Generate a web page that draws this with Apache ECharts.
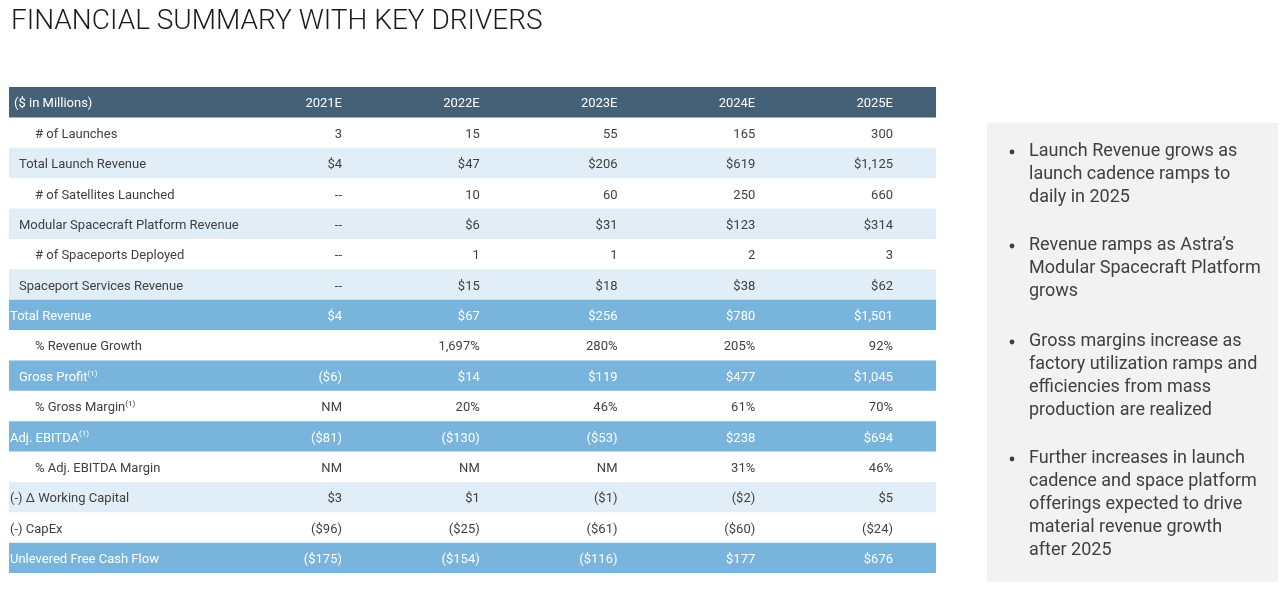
<!DOCTYPE html>
<html>
<head>
<meta charset="utf-8">
<script src="https://cdn.jsdelivr.net/npm/echarts@6/dist/echarts.min.js"></script>
<style>
html,body{margin:0;padding:0;background:#fff;}
#main{width:1287px;height:602px;}
</style>
</head>
<body>
<div id="main"></div>
<script>
// ---------- DATA ----------
var years = ['2021E', '2022E', '2023E', '2024E', '2025E'];
var headerLabel = '($ in Millions)';
var rowLabels = [
  '# of Launches',
  'Total Launch Revenue',
  '# of Satellites Launched',
  'Modular Spacecraft Platform Revenue',
  '# of Spaceports Deployed',
  'Spaceport Services Revenue',
  'Total Revenue',
  '% Revenue Growth',
  'Gross Profit',
  '% Gross Margin',
  'Adj. EBITDA',
  '% Adj. EBITDA Margin',
  '(-) \u0394 Working Capital',
  '(-) CapEx',
  'Unlevered Free Cash Flow'
];
var launches         = [3, 15, 55, 165, 300];
var launchRevenue    = [4, 47, 206, 619, 1125];
var satellites       = [null, 10, 60, 250, 660];
var platformRevenue  = [null, 6, 31, 123, 314];
var spaceports       = [null, 1, 1, 2, 3];
var spaceportRevenue = [null, 15, 18, 38, 62];
var totalRevenue     = [4, 67, 256, 780, 1501];
var revenueGrowth    = [null, 1697, 280, 205, 92];
var grossProfit      = [-6, 14, 119, 477, 1045];
var grossMargin      = [null, 20, 46, 61, 70];
var adjEbitda        = [-81, -130, -53, 238, 694];
var ebitdaMargin     = [null, null, null, 31, 46];
var workingCapital   = [3, 1, -1, -2, 5];
var capex            = [-96, -25, -61, -60, -24];
var unleveredFCF     = [-175, -154, -116, 177, 676];
var footnoteRows = ['Gross Profit', '% Gross Margin', 'Adj. EBITDA'];

var bullets = [
  'Launch Revenue grows as\nlaunch cadence ramps to\ndaily in 2025',
  'Revenue ramps as Astra\u2019s\nModular Spacecraft Platform\ngrows',
  'Gross margins increase as\nfactory utilization ramps and\nefficiencies from mass\nproduction are realized',
  'Further increases in launch\ncadence and space platform\nofferings expected to drive\nmaterial revenue growth\nafter 2025'
];

// ---------- FORMATTING / STYLE ----------
var rowValues = [launches, launchRevenue, satellites, platformRevenue, spaceports, spaceportRevenue,
  totalRevenue, revenueGrowth, grossProfit, grossMargin, adjEbitda, ebitdaMargin, workingCapital, capex, unleveredFCF];
var rowKinds = ['n','$','n','$','n','$','$','%','$','%','$','%','$','$','$'];
var nullText = ['--','--','--','--','--','--','--','','--','NM','--','NM','--','--','--'];

function fmt(v, kind, nt) {
  if (v === null || v === undefined) return nt;
  var a = Math.abs(v).toLocaleString('en-US');
  if (kind === '%') return a + '%';
  if (kind === '$') return v < 0 ? '($' + a + ')' : '$' + a;
  return a;
}

var C = {
  header: '#456178', light: '#e1eef7', bold: '#78b4db',
  text: '#404040', white: '#ffffff'
};
// style per table row (index 0 = header)
var rowStyle = [
  {bg: C.header, color: C.white, indent: 5},
  {bg: null, color: C.text, indent: 26},
  {bg: C.light, color: C.text, indent: 10},
  {bg: null, color: C.text, indent: 26},
  {bg: C.light, color: C.text, indent: 10},
  {bg: null, color: C.text, indent: 26},
  {bg: C.light, color: C.text, indent: 10},
  {bg: C.bold, color: C.white, indent: 1},
  {bg: null, color: C.text, indent: 26},
  {bg: C.bold, color: C.white, indent: 10},
  {bg: null, color: C.text, indent: 26},
  {bg: C.bold, color: C.white, indent: 1},
  {bg: null, color: C.text, indent: 26},
  {bg: C.light, color: C.text, indent: 1},
  {bg: null, color: C.text, indent: 1},
  {bg: C.bold, color: C.white, indent: 1}
];

var tableRows = [{label: headerLabel, cells: years}];
rowLabels.forEach(function (lab, i) {
  tableRows.push({
    label: lab,
    cells: rowValues[i].map(function (v) { return fmt(v, rowKinds[i], nullText[i]); })
  });
});
var yCats = tableRows.map(function (r, i) { return String(i); });

var FONT = 'Roboto, "Noto Sans", sans-serif';
var TEXT_DY = 2;

var chart = echarts.init(document.getElementById('main'), null, {renderer: 'canvas'});

// bullets as graphic
var bulletTops = [150, 244, 340, 457];
var graphics = [{
  type: 'rect', left: 987, top: 123, z: 0,
  shape: {width: 291, height: 459},
  style: {fill: '#f2f2f2'}
}];
bullets.forEach(function (b, k) {
  graphics.push({
    type: 'circle', z: 2,
    shape: {cx: 1012, cy: bulletTops[k] + 2, r: 2.4},
    style: {fill: '#404040'}
  });
  graphics.push({
    type: 'text', z: 2, x: 1029, y: bulletTops[k] - 9.5,
    style: {text: b, font: '18px ' + FONT, fill: '#404040', lineHeight: 22.8, align: 'left', verticalAlign: 'top'}
  });
});

chart.setOption({
  animation: false,
  title: {
    text: 'FINANCIAL SUMMARY WITH KEY DRIVERS',
    left: 6, top: 3,
    textStyle: {fontFamily: FONT, fontSize: 28, fontWeight: 300, color: '#1a1a1a'}
  },
  grid: {left: 9, top: 87, width: 927, height: 486, containLabel: false},
  xAxis: {type: 'value', min: -1.4174, max: 5.3122, show: false},
  yAxis: {type: 'category', data: yCats, inverse: true, show: false},
  graphic: graphics,
  series: [{
    type: 'custom',
    data: tableRows.map(function (r, i) { return [0, i]; }),
    renderItem: function (params, api) {
      var i = api.value(1);
      var cs = params.coordSys;
      var c = api.coord([0, i]);
      var h = api.size([0, 1])[1];
      var st = rowStyle[i];
      var row = tableRows[i];
      var children = [];
      if (st.bg) {
        children.push({type: 'rect', shape: {x: cs.x, y: c[1] - h / 2, width: cs.width, height: h},
          style: {fill: st.bg}});
      }
      var hasNote = footnoteRows.indexOf(row.label) >= 0;
      children.push({
        type: 'text', x: cs.x + st.indent, y: c[1] + TEXT_DY,
        style: {
          text: hasNote ? '{a|' + row.label + '}{s|(1)}' : row.label,
          rich: {
            a: {font: '13px ' + FONT, fill: st.color, lineHeight: 16},
            s: {font: '8px ' + FONT, fill: st.color, lineHeight: 9, verticalAlign: 'top'}
          },
          font: '13px ' + FONT, fill: st.color, align: 'left', verticalAlign: 'middle'
        }
      });
      row.cells.forEach(function (t, j) {
        var p = api.coord([j + 1, i]);
        children.push({
          type: 'text', x: p[0], y: c[1] + TEXT_DY,
          style: {text: t, font: '13px ' + FONT, fill: st.color, align: 'right', verticalAlign: 'middle'}
        });
      });
      return {type: 'group', children: children};
    }
  }]
});
</script>
</body>
</html>
